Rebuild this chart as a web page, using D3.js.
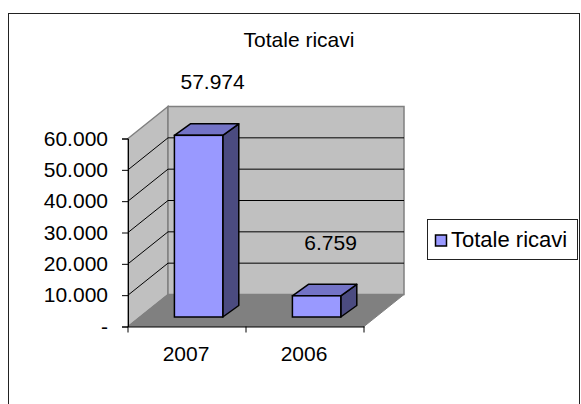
<!DOCTYPE html>
<html>
<head>
<meta charset="utf-8">
<script src="https://cdn.jsdelivr.net/npm/d3@7"></script>
<style>
html,body{margin:0;padding:0;background:#fff;}
svg text{font-family:"Liberation Sans",Arial,sans-serif;fill:#000;}
</style>
</head>
<body>
<svg id="chart" width="581" height="404"></svg>
<script>
// ---- data ----
const categories = ["2007", "2006"];
const values = [57974, 6759];
const valueLabels = ["57.974", "6.759"];
const tickValues = [0, 10000, 20000, 30000, 40000, 50000, 60000];
const tickLabels = ["-", "10.000", "20.000", "30.000", "40.000", "50.000", "60.000"];
const seriesName = "Totale ricavi";
const title = "Totale ricavi";

// ---- layout ----
const svg = d3.select("#chart");
const X0 = 128, X1 = 364;           // front plot extents
const DX = 40, DY = -32;            // oblique depth offset of the walls
const y = d3.scaleLinear().domain([0, 60000]).range([326.5, 138.5]);
const x = d3.scaleBand().domain(categories).range([X0, X1]).padding(0);
const barW = x.bandwidth() * 0.41;
const barShift = {dx: 11.6, dy: -9.5};  // bar front face position in depth
const barDepth = {dx: 16, dy: -11.5};

// outer frame
svg.append("rect").attr("x", 8.5).attr("y", 13.5).attr("width", 571).attr("height", 400)
  .attr("fill", "#fff").attr("stroke", "#222").attr("stroke-width", 1);

// title
svg.append("text").attr("x", 299).attr("y", 46.5).attr("text-anchor", "middle")
  .attr("font-size", 21).text(title);

const pts = a => a.map(p => p.join(",")).join(" ");
const yTop = y(60000), yBot = y(0);

// side wall
svg.append("polygon")
  .attr("points", pts([[X0, yTop], [X0 + DX, yTop + DY], [X0 + DX, yBot + DY], [X0, yBot]]))
  .attr("fill", "#c0c0c0").attr("stroke", "#808080").attr("stroke-width", 1.5);
// back wall
svg.append("polygon")
  .attr("points", pts([[X0 + DX, yTop + DY], [X1 + DX, yTop + DY], [X1 + DX, yBot + DY], [X0 + DX, yBot + DY]]))
  .attr("fill", "#c0c0c0").attr("stroke", "#808080").attr("stroke-width", 1.5);
// floor
svg.append("polygon")
  .attr("points", pts([[X0, yBot], [X1, yBot], [X1 + DX, yBot + DY], [X0 + DX, yBot + DY]]))
  .attr("fill", "#808080").attr("stroke", "#808080").attr("stroke-width", 1);

// gridlines (side wall diagonals + back wall horizontals)
const grid = tickValues.filter(v => v > 0 && v < 60000);
svg.append("g").selectAll("line.s").data(grid).join("line")
  .attr("x1", X0).attr("y1", d => y(d)).attr("x2", X0 + DX).attr("y2", d => y(d) + DY)
  .attr("stroke", "#000").attr("stroke-width", 1);
svg.append("g").selectAll("line.b").data(tickValues.filter(v => v > 0)).join("line")
  .attr("x1", X0 + DX).attr("y1", d => y(d) + DY).attr("x2", X1 + DX).attr("y2", d => y(d) + DY)
  .attr("stroke", "#000").attr("stroke-width", d => d === 60000 ? 0 : 1);

// y axis
const yAxis = d3.axisLeft(y).tickValues(tickValues).tickSize(6).tickPadding(14)
  .tickFormat((d, i) => tickLabels[i]);
const gy = svg.append("g").attr("transform", `translate(${X0},0)`).call(yAxis);
gy.select(".domain").attr("stroke", "#000");
gy.selectAll(".tick line").attr("stroke", "#000");
gy.selectAll("text").attr("font-size", 21).attr("font-family", "Liberation Sans, Arial, sans-serif").attr("fill", "#000");

// x axis
const xAxis = d3.axisBottom(x).tickSize(0).tickPadding(20);
const gx = svg.append("g").attr("transform", `translate(0,${yBot})`).call(xAxis);
gx.select(".domain").attr("stroke", "#000");
gx.selectAll(".tick text").attr("font-size", 21).attr("font-family", "Liberation Sans, Arial, sans-serif")
  .attr("fill", "#000").attr("dx", -1);
// x tick marks at band boundaries
svg.append("g").selectAll("line").data([X0, ...categories.map(c => x(c) + x.bandwidth())]).join("line")
  .attr("x1", d => d).attr("x2", d => d).attr("y1", yBot).attr("y2", yBot + 6)
  .attr("stroke", "#000");

// bars
const bars = svg.append("g").selectAll("g").data(categories.map((c, i) => ({c, v: values[i], l: valueLabels[i]}))).join("g");
bars.each(function(d) {
  const g = d3.select(this);
  const cx = x(d.c) + x.bandwidth() / 2 + barShift.dx;
  const xl = cx - barW / 2, xr = cx + barW / 2;
  const yt = y(d.v) + barShift.dy, yb = y(0) + barShift.dy;
  const ddx = barDepth.dx, ddy = barDepth.dy;
  // side face
  g.append("polygon").attr("points", pts([[xr, yt], [xr + ddx, yt + ddy], [xr + ddx, yb + ddy], [xr, yb]]))
    .attr("fill", "#4b4b80").attr("stroke", "#000").attr("stroke-width", 1.5).attr("stroke-linejoin", "round");
  // top face
  g.append("polygon").attr("points", pts([[xl, yt], [xl + ddx, yt + ddy], [xr + ddx, yt + ddy], [xr, yt]]))
    .attr("fill", "#7373c6").attr("stroke", "#000").attr("stroke-width", 1.5).attr("stroke-linejoin", "round");
  // front face
  g.append("rect").attr("x", xl).attr("y", yt).attr("width", barW).attr("height", yb - yt)
    .attr("fill", "#9999ff").attr("stroke", "#000").attr("stroke-width", 1.5);
  // value label
  g.append("text").attr("x", cx + 14).attr("y", yt - 46).attr("text-anchor", "middle")
    .attr("font-size", 21).text(d.l);
});

// legend
const lg = svg.append("g");
lg.append("rect").attr("x", 427.5).attr("y", 219.5).attr("width", 150).attr("height", 40)
  .attr("fill", "#fff").attr("stroke", "#222").attr("stroke-width", 1);
lg.append("rect").attr("x", 435.5).attr("y", 235).attr("width", 11).attr("height", 11)
  .attr("fill", "#9999ff").attr("stroke", "#000").attr("stroke-width", 1.5);
lg.append("text").attr("x", 451).attr("y", 246.5).attr("font-size", 22).text(seriesName);
</script>
</body>
</html>
